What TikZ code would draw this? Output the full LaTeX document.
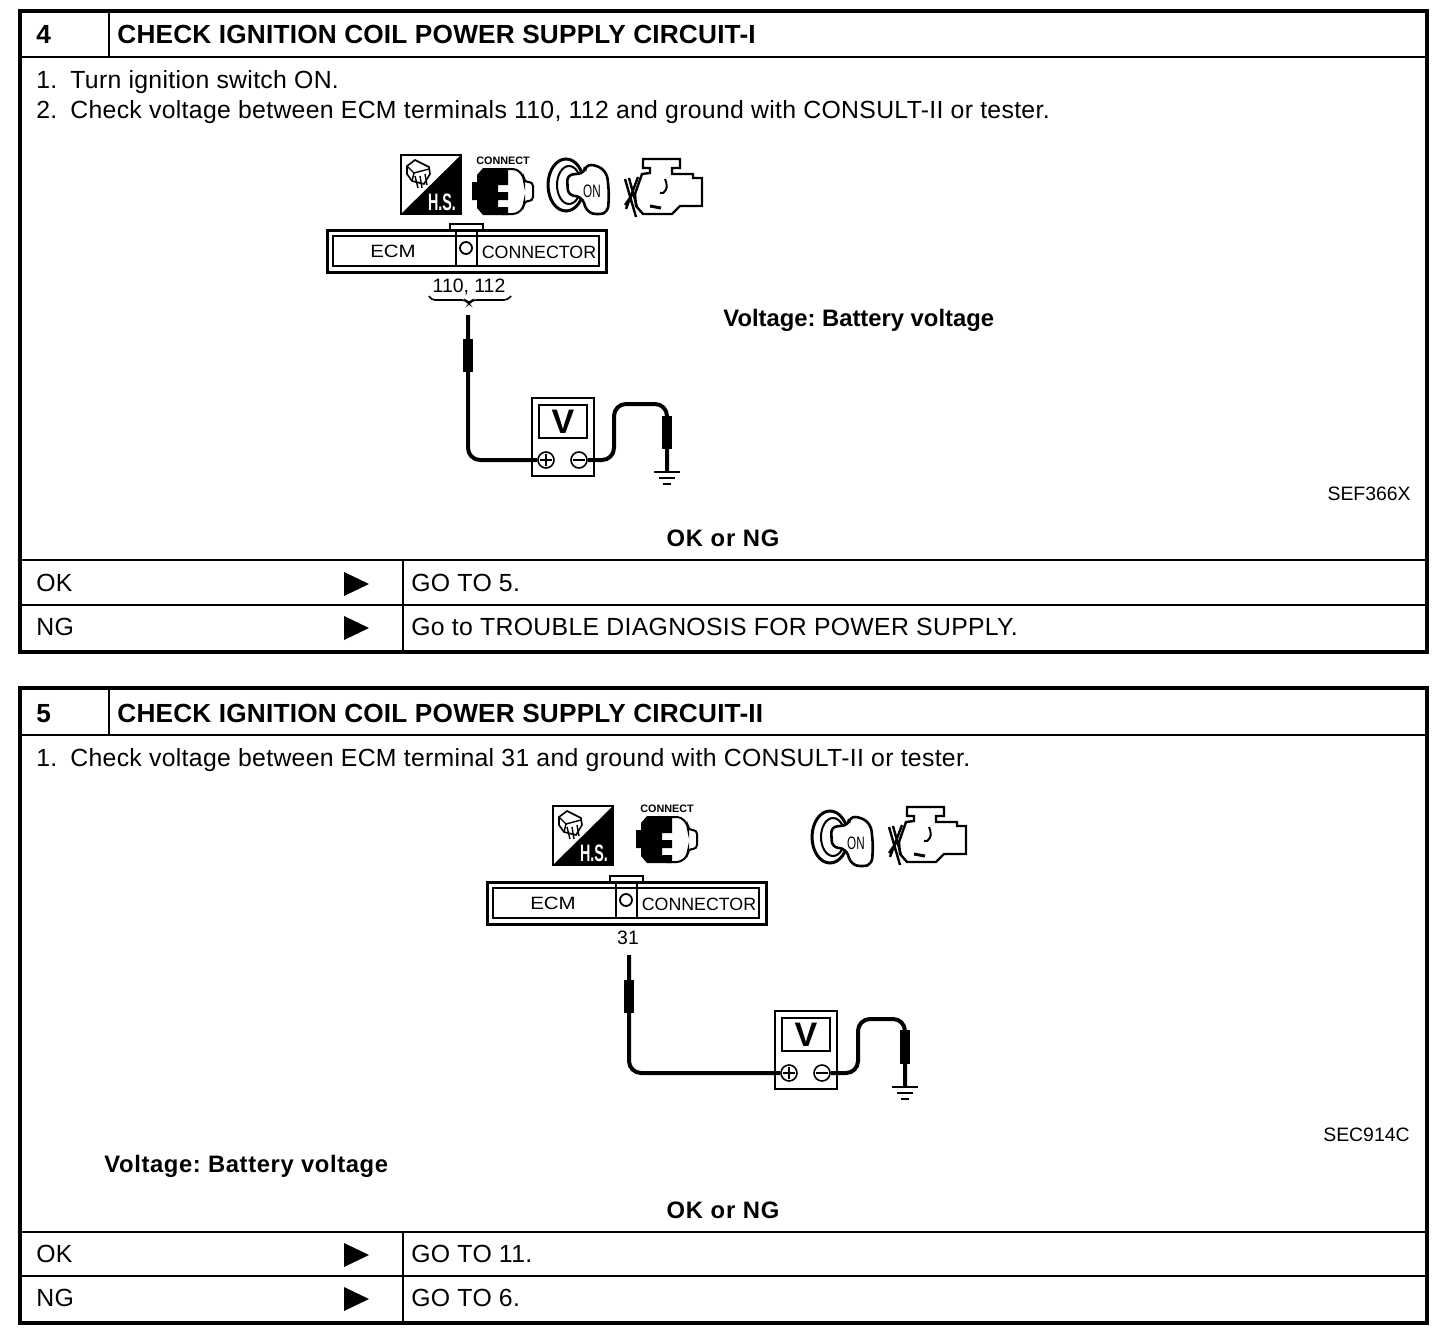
\documentclass[tikz,border=0pt]{standalone}
\usepackage{fontspec}
\setmainfont{Liberation Sans}
\usetikzlibrary{positioning, decorations.pathreplacing}
\begin{document}
\frenchspacing
\begin{tikzpicture}[
  x=0.5pt, y=-0.5pt,
  frame/.style={draw=black, line width=2pt},
  rule/.style={draw=black, line width=1pt},
  title/.style={anchor=base west, inner sep=0pt, font=\fontsize{13.1}{15}\selectfont\bfseries\addfontfeature{LetterSpace=0.8}},
  body/.style={anchor=base west, inner sep=0pt, font=\fontsize{12.4}{15}\selectfont\addfontfeature{LetterSpace=1.25}},
  note/.style={anchor=base west, inner sep=0pt, font=\fontsize{11.9}{15}\selectfont\bfseries},
  notewide/.style={anchor=base west, inner sep=0pt, font=\fontsize{11.9}{15}\selectfont\bfseries\addfontfeature{LetterSpace=2.6}},
  verdict/.style={anchor=base, inner sep=0pt, font=\fontsize{11.9}{15}\selectfont\bfseries\addfontfeature{LetterSpace=3.7}},
  code/.style={anchor=base east, inner sep=0pt, font=\fontsize{9.7}{11}\selectfont},
  small/.style={inner sep=0pt, font=\fontsize{8.9}{11}\selectfont},
  pins/.style={inner sep=0pt, font=\fontsize{9.7}{11}\selectfont},
  wire/.style={draw=black, line width=2pt, rounded corners=6pt},
  grip/.style={draw=black, line width=5pt},
  term/.style={draw=black, circle, line width=0.8pt, minimum size=8pt, inner sep=0pt},
  ecmconn/.pic={
    \draw[line width=1pt] (123,6) -- (123,0) -- (156,0) -- (156,6);
    \draw[line width=1.5pt] (0,6) rectangle (279,48);
    \draw[line width=1.2pt] (6,12) rectangle (272,42);
    \draw[line width=1.2pt] (129,6) rectangle (150,42);
    \node[draw, circle, line width=0.9pt, minimum size=6pt, inner sep=0pt] (-pin) at (139,24) {};
    \node[small, xscale=1.15] (-ecm) at (66,27) {ECM};
    \node[small] (-con) at (212,28) {CONNECTOR};
  },
  hsicon/.pic={
    \draw[line width=0.8pt] (0,0) rectangle (60,59);
    \fill (60,0) -- (60,59) -- (0,59) -- cycle;
    \draw[line width=0.8pt] (6,11) -- (14,5) -- (28,12) -- (29,19) -- (23,29) -- (11,26) -- (6,19) -- cycle;
    \draw[line width=0.7pt] (6,11) -- (13,18) -- (28,14) (13,18) -- (11,26) (14,21) -- (17,33) (19,21) -- (21,33) (24,19) -- (26,30);
    \node[inner sep=0pt, text=white, font=\fontsize{11.9}{13}\selectfont\bfseries, xscale=0.6] (-hs) at (41,47) {H.S.};
  },
  plugicon/.pic={
    \node[inner sep=0pt, font=\fontsize{5.4}{6}\selectfont\bfseries] (-txt) at (31,-9) {CONNECT};
    \draw[line width=1pt, rounded corners=2pt] (30,-1) -- (45,-1) -- (52,7) -- (52,12) -- (61,12) -- (61,31) -- (52,31) -- (52,37) -- (45,44) -- (30,44);
    \fill (0,12) -- (5,12) -- (5,5) -- (11,-2) -- (36,-2) -- (36,15) -- (26,15) -- (26,22) -- (36,22) -- (36,30) -- (26,30) -- (26,37) -- (36,37) -- (36,45) -- (11,45) -- (5,38) -- (5,30) -- (0,30) -- cycle;
  },
  keyicon/.pic={
    \draw[line width=1.5pt] (18,27) ellipse [x radius=18, y radius=26];
    \draw[line width=1pt] (21,27) ellipse [x radius=12, y radius=19];
    \draw[fill=white, line width=1.3pt, rounded corners=3pt] (19,17) -- (37,15) -- (37,7) -- (49,7) -- (59,15) -- (61,35) -- (60,54) -- (50,57) -- (39,54) -- (34,39) -- (20,37) -- cycle;
    \node[inner sep=0pt, font=\fontsize{9}{10}\selectfont, xscale=0.65] (-on) at (44,33) {ON};
  },
  engicon/.pic={
    \draw[line width=1.2pt] (20,0) -- (57,0) -- (57,9) -- (49,9) -- (49,15) -- (70,15) -- (70,19) -- (79,19) -- (79,47) -- (57,47) -- (49,55) -- (20,55) -- (13,47) -- (12,35) -- (19,15) -- (27,14) -- (27,9) -- (20,9) -- cycle;
    \draw[line width=1.2pt] (2,20) -- (13,58) (15,18) -- (3,50) (6,19) -- (14,48) (11,33) -- (2,46);
    \draw[line width=1pt] (42,20) .. controls (46,28) and (42,36) .. (37,34);
    \draw[line width=1.5pt] (27,47) -- (38,49);
  },
  meter/.pic={
    \draw[line width=1.2pt] (0,0) rectangle (62,78);
    \draw[line width=1.2pt] (7,7) rectangle (55,40);
    \node[inner sep=0pt, font=\fontsize{17}{18}\selectfont\bfseries] (-v) at (31,24) {V};
    \node[term, fill=white] (-plus) at (14,62) {};
    \node[term, fill=white] (-minus) at (47,62) {};
    \draw[line width=0.8pt] (8,62) -- (20,62) (14,56) -- (14,68) (41,62) -- (53,62);
  },
  earth/.pic={
    \draw[line width=1.4pt] (-13,0) -- (13,0);
    \draw[line width=1.4pt] (-8,6) -- (8,6);
    \draw[line width=1.4pt] (-4,12) -- (4,12);
  }
]
\useasboundingbox (0,0) rectangle (1456,1338);

% step 4
\draw[frame] (20,11) rectangle (1427,652);
\draw[rule] (20,57) -- (1427,57);
\draw[rule] (109,11) -- (109,57);
\draw[rule] (20,560) -- (1427,560);
\draw[rule] (20,605) -- (1427,605);
\draw[rule] (403,560) -- (403,652);
\node[title] (numA) at (36,44) {4};
\node[title] (headA) at (117,44) {CHECK IGNITION COIL POWER SUPPLY CIRCUIT-I};
\node[body] (stepAa) at (36,89) {1.\hspace{6.5pt}Turn ignition switch ON.};
\node[body] (stepAb) at (36,119) {2.\hspace{6.5pt}Check voltage between ECM terminals 110, 112 and ground with CONSULT-II or tester.};
\node[note] (voltA) at (723,326) {Voltage: Battery voltage};
\node[code] (codeA) at (1411,500) {SEF366X};
\node[verdict] (askA) at (723,546) {OK or NG};
\node[body] (okA) at (36,591) {OK};
\node[body] (ngA) at (36,635) {NG};
\node[body] (goA) at (411,591) {GO TO 5.};
\node[body] (goB) at (411,635) {Go to TROUBLE DIAGNOSIS FOR POWER SUPPLY.};

\pic (hsA) at (401,155) {hsicon};
\pic (plugA) at (472,170) {plugicon};
\pic (keyA) at (548,158) {keyicon};
\pic (engA) at (623,159) {engicon};
\pic (ecmA) at (327,224) {ecmconn};
\node[pins] (pinsA) at (469,287) {110, 112};
\draw[line width=0.8pt, rounded corners=2pt] (429,296) -- (431,300) -- (466,300) -- (469,304) -- (472,300) -- (508,300) -- (511,296);
\pic (mA) at (532,398) {meter};
\coordinate (tipA) at (468,315);
\coordinate (gndA) at (667,472);
\draw[wire] (tipA) |- (mA-plus.west);
\draw[wire] (mA-minus.east) -- (614,460) -- (614,404) -- (667,404) -- (gndA);
\draw[grip] (468,339) -- (468,372);
\draw[grip] (667,416) -- (667,449);
\pic (earthA) at (gndA) {earth};

% step 5
\draw[frame] (20,688) rectangle (1427,1323);
\draw[rule] (20,735) -- (1427,735);
\draw[rule] (109,688) -- (109,735);
\draw[rule] (20,1232) -- (1427,1232);
\draw[rule] (20,1276) -- (1427,1276);
\draw[rule] (403,1232) -- (403,1323);
\node[title] (numB) at (36,722) {5};
\node[title] (headB) at (117,722) {CHECK IGNITION COIL POWER SUPPLY CIRCUIT-II};
\node[body] (stepBa) at (36,766) {1.\hspace{6.5pt}Check voltage between ECM terminal 31 and ground with CONSULT-II or tester.};
\node[notewide] (voltB) at (104,1172) {Voltage: Battery voltage};
\node[code] (codeB) at (1410,1141) {SEC914C};
\node[verdict] (askB) at (723,1218) {OK or NG};
\node[body] (okB) at (36,1262) {OK};
\node[body] (ngB) at (36,1306) {NG};
\node[body] (goC) at (411,1262) {GO TO 11.};
\node[body] (goD) at (411,1306) {GO TO 6.};

\pic (hsB) at (553,806) {hsicon};
\pic (plugB) at (636,818) {plugicon};
\pic (keyB) at (812,810) {keyicon};
\pic (engB) at (887,807) {engicon};
\pic (ecmB) at (487,876) {ecmconn};
\node[pins] (pinsB) at (628,938) {31};
\pic (mB) at (775,1011) {meter};
\coordinate (tipB) at (629,955);
\coordinate (gndB) at (905,1087);
\draw[wire] (tipB) |- (mB-plus.west);
\draw[wire] (mB-minus.east) -- (858,1073) -- (858,1019) -- (905,1019) -- (gndB);
\draw[grip] (629,980) -- (629,1013);
\draw[grip] (905,1030) -- (905,1064);
\pic (earthB) at (gndB) {earth};

\foreach \ya in {584,628,1255,1299}
  \fill (344,\ya-12) -- (369,\ya) -- (344,\ya+12) -- cycle;
\end{tikzpicture}
\end{document}
